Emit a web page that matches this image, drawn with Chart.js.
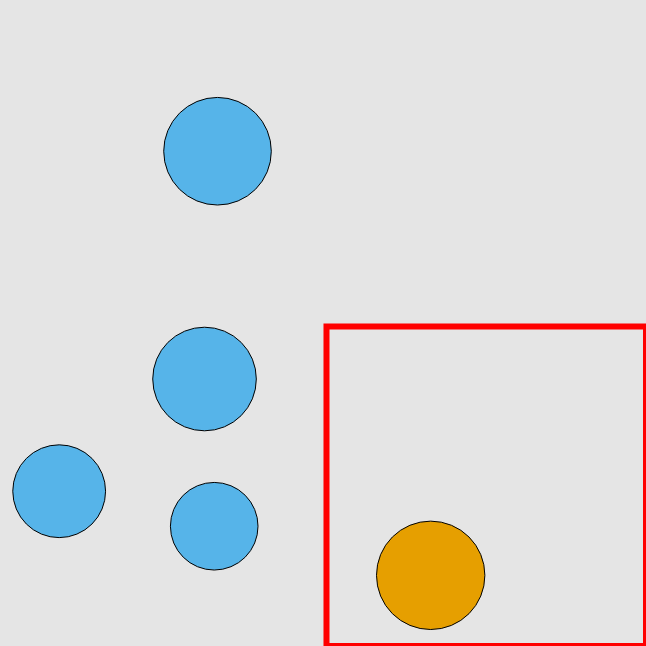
<!DOCTYPE html>
<html>
<head>
<meta charset="utf-8">
<script src="https://cdn.jsdelivr.net/npm/chart.js@4"></script>
<style>
html,body{margin:0;padding:0;background:#e5e5e5;}
#wrap{width:646px;height:646px;}
</style>
</head>
<body>
<div id="wrap"><canvas id="grafico" width="646" height="646"></canvas></div>
<script>
// puntos azules (x, y en 0..1, radio en px)
const azulX=[0.3367,0.3166,0.0916,0.3316]
const azulY=[0.7659,0.4133,0.2396,0.1854]
const azulR=[53.8,51.8,46.4,43.8]

// punto naranja
const naranjaX=[0.6667]
const naranjaY=[0.1094]
const naranjaR=[54.2]

// rectangulo rojo (esquinas, se repite el primer lado para cerrar la esquina)
const rectX=[0.5054,1.0,1.0,0.5054,0.5054,1.0]
const rectY=[0.4946,0.4946,0.0,0.0,0.4946,0.4946]

function puntos(xs,ys,rs){
return xs.map((x,i)=>({x:x,y:ys[i],r:rs?rs[i]:0}))
}

const ctx=document.getElementById("grafico")

new Chart(ctx,{
type:"bubble",
data:{
datasets:[
{
type:"line",
data:puntos(rectX,rectY),
borderColor:"#ff0000",
borderWidth:6,
borderJoinStyle:"miter",
pointRadius:0,
fill:false,
tension:0,
clip:false
},
{
data:puntos(naranjaX,naranjaY,naranjaR),
backgroundColor:"#E69F00",
borderColor:"#000000",
borderWidth:1
},
{
data:puntos(azulX,azulY,azulR),
backgroundColor:"#56B4E9",
borderColor:"#000000",
borderWidth:1
}
]
},
options:{
responsive:false,
animation:false,
layout:{padding:0,autoPadding:false},
scales:{
x:{type:"linear",min:0,max:1,display:false},
y:{type:"linear",min:0,max:1,display:false}
},
plugins:{
legend:{display:false},
tooltip:{enabled:false}
}
}
})
</script>
</body>
</html>
